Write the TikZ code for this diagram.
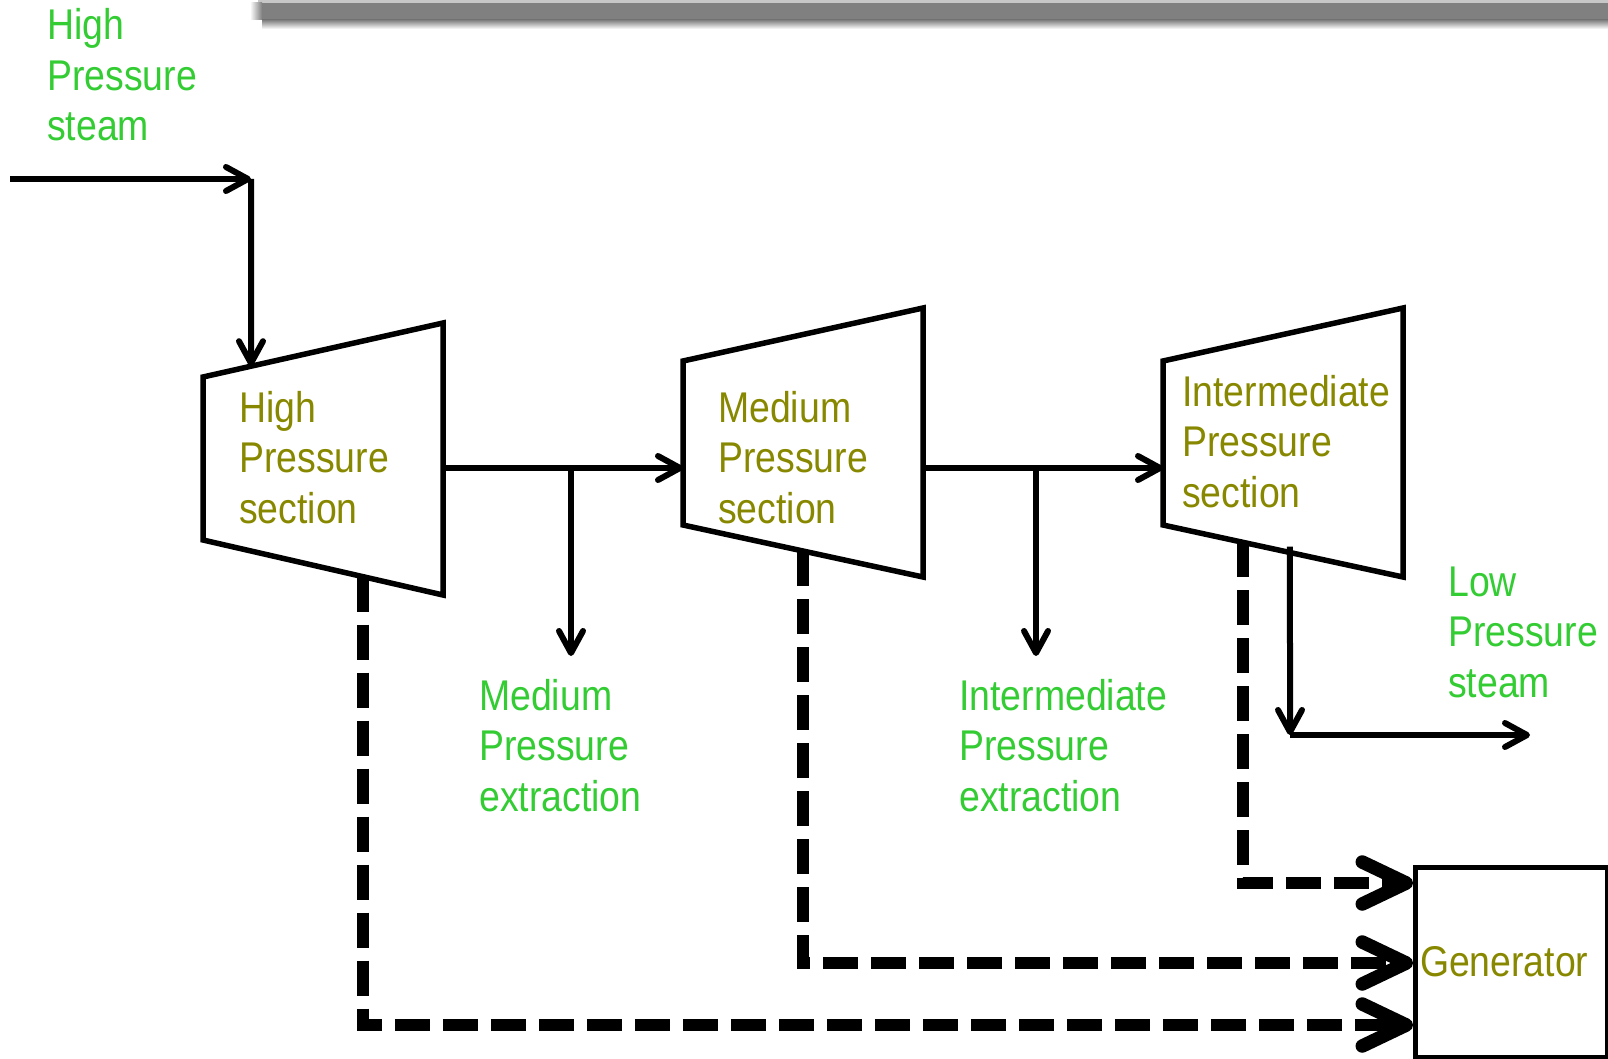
\documentclass[tikz,border=0pt]{standalone}
\usepackage{fontspec}
\setmainfont{Liberation Sans}[FakeStretch=0.87]
\usetikzlibrary{arrows.meta,calc}
\definecolor{lblgreen}{RGB}{51,204,51}
\definecolor{secolive}{RGB}{136,136,0}
\newcommand\bigtxt{\fontsize{43}{50.5}\selectfont}
\tikzset{
  flow/.style={line width=6pt, -{Straight Barb[length=22pt,width=24pt,round]}},
  shaft/.style={line width=12pt, dash pattern=on 35pt off 13pt, -{Straight Barb[length=44pt,width=42pt,round,line width=13.5pt]}},
  turb/.style={draw, line width=5.5pt, line join=miter},
  steamlbl/.style={anchor=base west, align=left, inner sep=0pt, text=lblgreen, font=\bigtxt},
  seclbl/.style={anchor=base west, align=left, inner sep=0pt, text=secolive, font=\bigtxt},
  genbox/.style={draw, line width=5pt, minimum width=192pt, minimum height=190pt, inner sep=0pt,
    text width=182pt, align=left, text=secolive, font=\bigtxt}
}
\begin{document}
\begin{tikzpicture}[x=1pt,y=-1pt]
\useasboundingbox (0,0) rectangle (1608,1059);
% top shadow bar
\fill[black!22] (258,0) rectangle (1608,3);
\fill[black!50] (262,3) rectangle (1608,20);
\shade[left color=white,right color=black!50] (250,3) rectangle (262,20);
\shade[top color=black!50,bottom color=white] (262,20) rectangle (1608,29);

% turbines
\draw[turb] (203,377) coordinate (hp-tl) -- (443,323) coordinate (hp-tr)
  -- (443,595) coordinate (hp-br) -- (203,540) coordinate (hp-bl) -- cycle;
\draw[turb] (683,361) coordinate (mp-tl) -- (923,308) coordinate (mp-tr)
  -- (923,577) coordinate (mp-br) -- (683,525) coordinate (mp-bl) -- cycle;
\draw[turb] (1163,361) coordinate (ip-tl) -- (1403,308) coordinate (ip-tr)
  -- (1403,577) coordinate (ip-br) -- (1163,525) coordinate (ip-bl) -- cycle;

\node[seclbl] (hptxt) at (239,523) {High\\Pressure\\section};
\node[seclbl] (mptxt) at (718,523) {Medium\\Pressure\\section};
\node[seclbl] (iptxt) at (1182,507) {Intermediate\\Pressure\\section};

% labels
\node[steamlbl] (hpsteam) at (47,141) {High\\Pressure\\steam};
\node[steamlbl] (mpext) at (479,811) {Medium\\Pressure\\extraction};
\node[steamlbl] (ipext) at (959,811) {Intermediate\\Pressure\\extraction};
\node[steamlbl] (lpsteam) at (1448,697) {Low\\Pressure\\steam};

% generator
\node[genbox] (gen) at (1511,962) {Generator};

% coordinates
\coordinate (inlet) at (10,179);
\coordinate (bend) at (251,179);
\coordinate (hp-in) at ($(hp-tl)!0.2!(hp-tr)$);
\coordinate (hp-out) at (443,468);
\coordinate (mp-in) at (683,468);
\coordinate (mp-out) at (923,468);
\coordinate (ip-in) at (1163,468);
\coordinate (br1) at (571,468);
\coordinate (br1e) at (571,656);
\coordinate (br2) at (1036,468);
\coordinate (br2e) at (1036,656);
\coordinate (ip-lp) at ($(ip-bl)!0.529!(ip-br)+(0,-6)$);
\coordinate (lpbend) at (1290,735);
\coordinate (lpout) at (1530,735);
\coordinate (hp-sh) at ($(hp-bl)!0.667!(hp-br)$);
\coordinate (mp-sh) at ($(mp-bl)!0.5!(mp-br)$);
\coordinate (ip-sh) at ($(ip-bl)!0.333!(ip-br)$);
\coordinate (g1) at (1413,883);
\coordinate (g2) at (1413,963);
\coordinate (g3) at (1413,1025);

% steam flow
\draw[flow] (inlet) -- (bend);
\draw[flow] (bend) -- (hp-in);
\draw[flow] (hp-out) -- (mp-in);
\draw[flow] (br1) -- (br1e);
\draw[flow] (mp-out) -- (ip-in);
\draw[flow] (br2) -- (br2e);
\draw[flow] (ip-lp) -- (lpbend);
\draw[flow] (lpbend) -- (lpout);

% shafts
\draw[shaft] (hp-sh) |- (g3);
\draw[shaft] (mp-sh) |- (g2);
\draw[shaft] (ip-sh) |- (g1);
\end{tikzpicture}
\end{document}
